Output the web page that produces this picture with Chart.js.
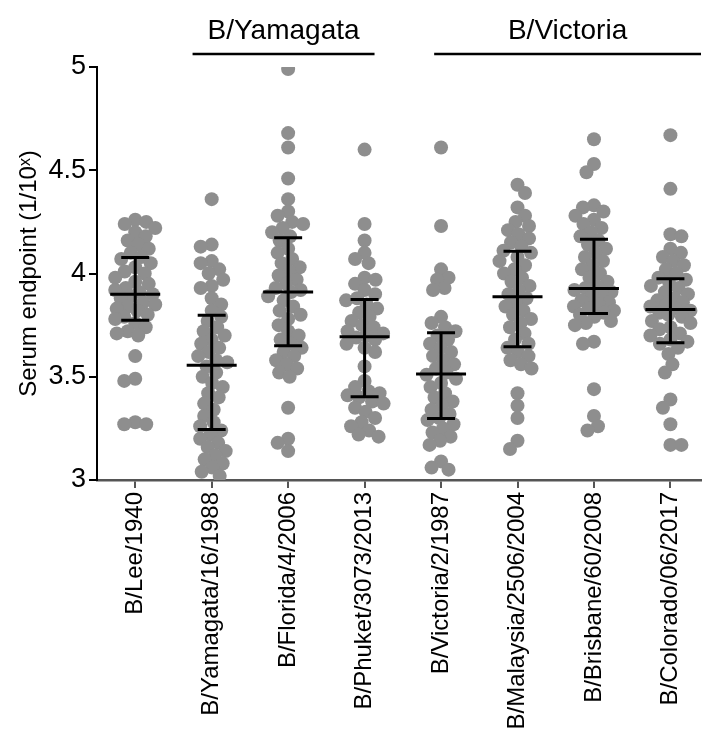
<!DOCTYPE html>
<html>
<head>
<meta charset="utf-8">
<script src="https://cdn.jsdelivr.net/npm/chart.js@4.4.0/dist/chart.umd.min.js"></script>
<style>
  html, body { margin: 0; padding: 0; background: #fff; overflow: hidden; }
  #wrap { width: 708px; height: 736px; position: relative; }
</style>
</head>
<body>
<div id="wrap"><canvas id="chart"></canvas></div>
<script>
// Strains on the x axis
const strains = ['B/Lee/1940', 'B/Yamagata/16/1988', 'B/Florida/4/2006', 'B/Phuket/3073/2013',
    'B/Victoria/2/1987', 'B/Malaysia/2506/2004', 'B/Brisbane/60/2008', 'B/Colorado/06/2017'];

// Serum endpoints (log10), one array per strain
const lee1940 = [4.26, 4.25, 4.24, 4.22, 4.20, 4.18, 4.16, 4.14, 4.12, 4.10, 4.08, 4.07, 4.05, 4.03, 4.01,
    4.00, 3.98, 3.96, 3.95, 3.93, 3.92, 3.91, 3.90, 3.89, 3.88, 3.86, 3.85, 3.84, 3.83, 3.82, 3.80, 3.79,
    3.78, 3.76, 3.74, 3.72, 3.71, 3.70, 3.60, 3.49, 3.48, 3.28, 3.27, 3.27];
const yamagata1988 = [4.36, 4.14, 4.13, 4.06, 4.05, 4.02, 4.00, 3.97, 3.94, 3.93, 3.88, 3.85, 3.82,
    3.79, 3.77, 3.74, 3.72, 3.70, 3.68, 3.66, 3.64, 3.62, 3.60, 3.58, 3.57,
    3.55, 3.52, 3.50, 3.47, 3.45, 3.42, 3.40, 3.37, 3.34, 3.31, 3.28, 3.26,
    3.24, 3.22, 3.20, 3.18, 3.16, 3.14, 3.12, 3.10, 3.08, 3.06, 3.04, 3.02];
const florida2006 = [4.99, 4.68, 4.61, 4.46, 4.36, 4.30, 4.28, 4.25, 4.24, 4.22, 4.20, 4.18,
    4.16, 4.12, 4.10, 4.07, 4.05, 4.03, 4.01, 3.99, 3.97, 3.95, 3.93, 3.92,
    3.91, 3.89, 3.87, 3.84, 3.82, 3.80, 3.78, 3.75, 3.72, 3.70, 3.68, 3.66,
    3.64, 3.62, 3.60, 3.58, 3.56, 3.54, 3.52, 3.50, 3.35, 3.20, 3.18, 3.14];
const phuket2013 = [4.60, 4.24, 4.16, 4.10, 4.07, 4.05, 3.98, 3.97, 3.95, 3.92, 3.90, 3.88,
    3.87, 3.85, 3.83, 3.81, 3.79, 3.77, 3.75, 3.74, 3.72, 3.71, 3.70,
    3.69, 3.68, 3.66, 3.64, 3.62, 3.55, 3.48, 3.45, 3.43, 3.42, 3.41,
    3.40, 3.38, 3.37, 3.35, 3.33, 3.30, 3.28, 3.26, 3.24, 3.22, 3.21];
const victoria1987 = [4.61, 4.23, 4.02, 3.98, 3.97, 3.93, 3.92, 3.79, 3.76, 3.74, 3.72,
    3.70, 3.68, 3.66, 3.64, 3.62, 3.60, 3.58, 3.56, 3.54, 3.52,
    3.51, 3.49, 3.47, 3.45, 3.42, 3.40, 3.38, 3.36, 3.34, 3.32, 3.30,
    3.29, 3.27, 3.25, 3.23, 3.21, 3.19, 3.17, 3.09, 3.06, 3.05];
const malaysia2004 = [4.43, 4.39, 4.32, 4.28, 4.25, 4.23, 4.21, 4.19, 4.17, 4.15, 4.13, 4.11,
    4.10, 4.08, 4.06, 4.04, 4.02, 4.00, 3.98, 3.96, 3.94, 3.92, 3.90,
    3.88, 3.86, 3.84, 3.82, 3.80, 3.78, 3.76, 3.74, 3.71, 3.68, 3.66,
    3.64, 3.62, 3.60, 3.58, 3.56, 3.54, 3.42, 3.36, 3.30, 3.19, 3.15];
const brisbane2008 = [4.65, 4.53, 4.49, 4.33, 4.32, 4.30, 4.28, 4.26, 4.24, 4.22, 4.20, 4.18,
    4.16, 4.14, 4.12, 4.10, 4.08, 4.06, 4.04, 4.02, 4.00, 3.98, 3.96, 3.94,
    3.93, 3.92, 3.91, 3.90, 3.89, 3.87, 3.86, 3.85, 3.84, 3.83, 3.82, 3.81,
    3.80, 3.79, 3.77, 3.76, 3.75, 3.67, 3.66, 3.44, 3.31, 3.26, 3.24];
const colorado2017 = [4.67, 4.41, 4.19, 4.18, 4.12, 4.10, 4.08, 4.06, 4.04, 4.02, 4.00, 3.98,
    3.97, 3.96, 3.94, 3.93, 3.91, 3.90, 3.88, 3.87, 3.86, 3.85, 3.84, 3.83,
    3.82, 3.81, 3.80, 3.79, 3.77, 3.76, 3.74, 3.73, 3.71, 3.70, 3.68, 3.67,
    3.66, 3.64, 3.61, 3.56, 3.52, 3.39, 3.35, 3.27, 3.17, 3.17];
const serumValues = [lee1940, yamagata1988, florida2006, phuket2013,
    victoria1987, malaysia2004, brisbane2008, colorado2017];

// Median and interquartile range bars
const medians = [3.90, 3.556, 3.911, 3.694, 3.513, 3.887, 3.927, 3.826];
const lowerQuartiles = [3.774, 3.245, 3.65, 3.403, 3.298, 3.645, 3.806, 3.665];
const upperQuartiles = [4.077, 3.798, 4.173, 3.874, 3.713, 4.108, 4.166, 3.974];

// Lineage brackets above the plot (in strain index units)
const groupNames = ['B/Yamagata', 'B/Victoria'];
const groupFrom = [0.75, 3.91];
const groupTo = [3.13, 7.4];

const yTicks = [3, 3.5, 4, 4.5, 5];

const FONT = "'Liberation Sans', Arial, Helvetica, sans-serif";
const DOT = '#8e8e8e';

// Draw median + IQR bars
const medianBars = {
    id: 'medianBars',
    afterDatasetsDraw(chart) {
        const { ctx, scales: { x, y } } = chart;
        ctx.save();
        ctx.strokeStyle = '#000';
        ctx.lineWidth = 3;
        strains.forEach((s, i) => {
            const cx = x.getPixelForValue(i);
            const yMed = y.getPixelForValue(medians[i]);
            const yLo = y.getPixelForValue(lowerQuartiles[i]);
            const yHi = y.getPixelForValue(upperQuartiles[i]);
            ctx.beginPath();
            ctx.moveTo(cx, yLo); ctx.lineTo(cx, yHi);
            ctx.moveTo(cx - 14, yLo); ctx.lineTo(cx + 14, yLo);
            ctx.moveTo(cx - 14, yHi); ctx.lineTo(cx + 14, yHi);
            ctx.moveTo(cx - 25, yMed); ctx.lineTo(cx + 25, yMed);
            ctx.stroke();
        });
        ctx.restore();
    }
};

// Lineage labels and lines at the top
const groupLabels = {
    id: 'groupLabels',
    afterDraw(chart) {
        const { ctx, scales: { x } } = chart;
        ctx.save();
        ctx.fillStyle = '#000';
        ctx.strokeStyle = '#000';
        ctx.lineWidth = 2.5;
        ctx.font = '28px ' + FONT;
        ctx.textAlign = 'center';
        ctx.textBaseline = 'alphabetic';
        groupNames.forEach((name, i) => {
            const x0 = x.getPixelForValue(groupFrom[i]);
            const x1 = x.getPixelForValue(groupTo[i]);
            ctx.beginPath();
            ctx.moveTo(x0, 54); ctx.lineTo(x1, 54);
            ctx.stroke();
            ctx.fillText(name, (x0 + x1) / 2, 39);
        });
        ctx.restore();
    }
};

const ctx = document.getElementById('chart').getContext('2d');
const chart = new Chart(ctx, {
    type: 'scatter',
    data: {
        datasets: [{
            data: serumValues.flatMap((vals, i) => vals.map(v => ({ x: i, y: v }))),
            backgroundColor: DOT,
            borderWidth: 0,
            pointRadius: 7,
            pointHoverRadius: 7
        }]
    },
    options: {
        responsive: true,
        maintainAspectRatio: false,
        animation: false,
        events: [],
        layout: { padding: { top: 67, right: 0, bottom: 0, left: 0 } },
        plugins: { legend: { display: false }, tooltip: { enabled: false } },
        scales: {
            x: {
                type: 'linear',
                min: -0.5,
                max: 7.4,
                afterBuildTicks: axis => { axis.ticks = strains.map((s, i) => ({ value: i })); },
                afterFit: scale => { scale.height = 256; },
                grid: { drawOnChartArea: false, drawTicks: true, tickLength: 8, color: '#555', lineWidth: 2 },
                border: { display: true, color: '#555', width: 2.5 },
                ticks: {
                    autoSkip: false,
                    minRotation: 90,
                    maxRotation: 90,
                    padding: 4,
                    color: '#000',
                    font: { family: FONT, size: 24 },
                    callback: v => strains[v] ?? ''
                }
            },
            y: {
                min: 3,
                max: 5,
                afterBuildTicks: axis => { axis.ticks = yTicks.map(v => ({ value: v })); },
                afterFit: scale => { scale.width = 97; },
                grid: { drawOnChartArea: false, drawTicks: true, tickLength: 8, color: '#000', lineWidth: 2 },
                border: { display: true, color: '#000', width: 2 },
                ticks: {
                    padding: 3,
                    color: '#000',
                    font: { family: FONT, size: 27 },
                    callback: v => String(v)
                },
                title: {
                    display: true,
                    text: 'Serum endpoint (1/10ˣ)',
                    color: '#000',
                    font: { family: FONT, size: 24 },
                    padding: { top: 15, bottom: 0 }
                }
            }
        }
    },
    plugins: [medianBars, groupLabels]
});

// Spread the dots sideways like a scatter dot plot (beeswarm), in pixel space
function spreadDots() {
    const xs = chart.scales.x, ys = chart.scales.y;
    const unit = xs.getPixelForValue(1) - xs.getPixelForValue(0);
    const minDist = 11, maxOff = 20;
    const points = [];
    serumValues.forEach((vals, i) => {
        const placed = [];
        const order = vals.slice().sort((a, b) => b - a);
        order.forEach((v, k) => {
            const py = ys.getPixelForValue(v);
            const near = placed.filter(p => Math.abs(p.py - py) < minDist);
            let best = 0, bestScore = -1;
            for (let d = 0; d <= maxOff; d += 0.5) {
                const sides = d === 0 ? [0] : (k % 2 ? [d, -d] : [-d, d]);
                let found = false;
                for (const dx of sides) {
                    let m = Infinity;
                    near.forEach(p => { m = Math.min(m, Math.hypot(p.dx - dx, p.py - py)); });
                    if (m >= minDist) { best = dx; found = true; break; }
                    if (m > bestScore) { bestScore = m; best = dx; }
                }
                if (found) break;
            }
            placed.push({ dx: best, py });
            points.push({ x: i + best / unit, y: v });
        });
    });
    chart.data.datasets[0].data = points;
    chart.update('none');
}
spreadDots();
</script>
</body>
</html>
